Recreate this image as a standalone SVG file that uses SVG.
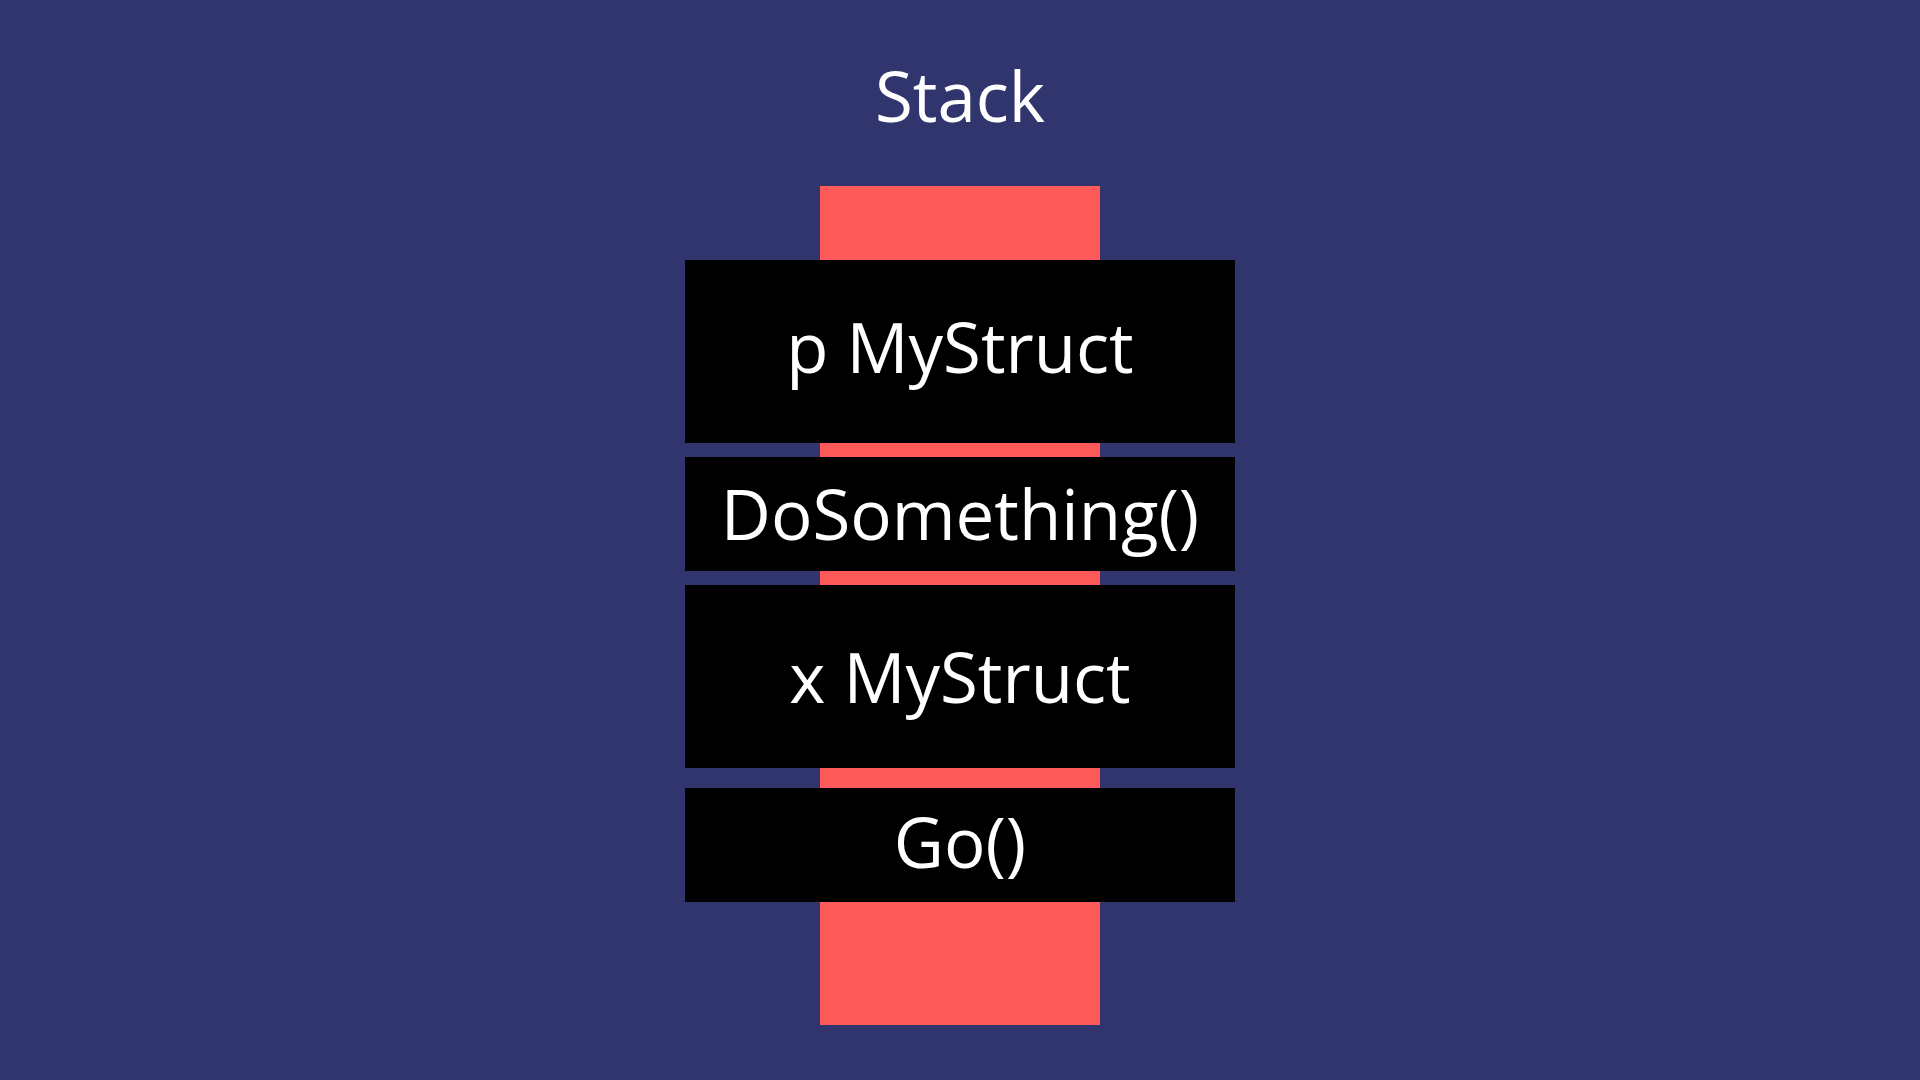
<svg xmlns="http://www.w3.org/2000/svg" width="1920" height="1080" viewBox="0 0 1920 1080">
<style>
.frame{fill:#000000}
.lbl{font-family:"Open Sans","Noto Sans","Liberation Sans",sans-serif;font-size:69px;fill:#ffffff;text-anchor:middle}
</style>
<rect x="0" y="0" width="1920" height="1080" fill="#31356e"/>
<text class="lbl" x="960" y="122">Stack</text>
<rect id="stack-column" x="820" y="186" width="280" height="839" fill="#ff5a5a"/>
<g id="connectors"></g>
<g id="node-p"><rect class="frame" x="685" y="260" width="550" height="183"/><text class="lbl" x="960" y="373">p MyStruct</text></g>
<g id="node-dosomething"><rect class="frame" x="685" y="457" width="550" height="114"/><text class="lbl" x="960" y="540">DoSomething()</text></g>
<g id="node-x"><rect class="frame" x="685" y="585" width="550" height="183"/><text class="lbl" x="960" y="703">x MyStruct</text></g>
<g id="node-go"><rect class="frame" x="685" y="788" width="550" height="114"/><text class="lbl" x="960" y="868">Go()</text></g>
</svg>
